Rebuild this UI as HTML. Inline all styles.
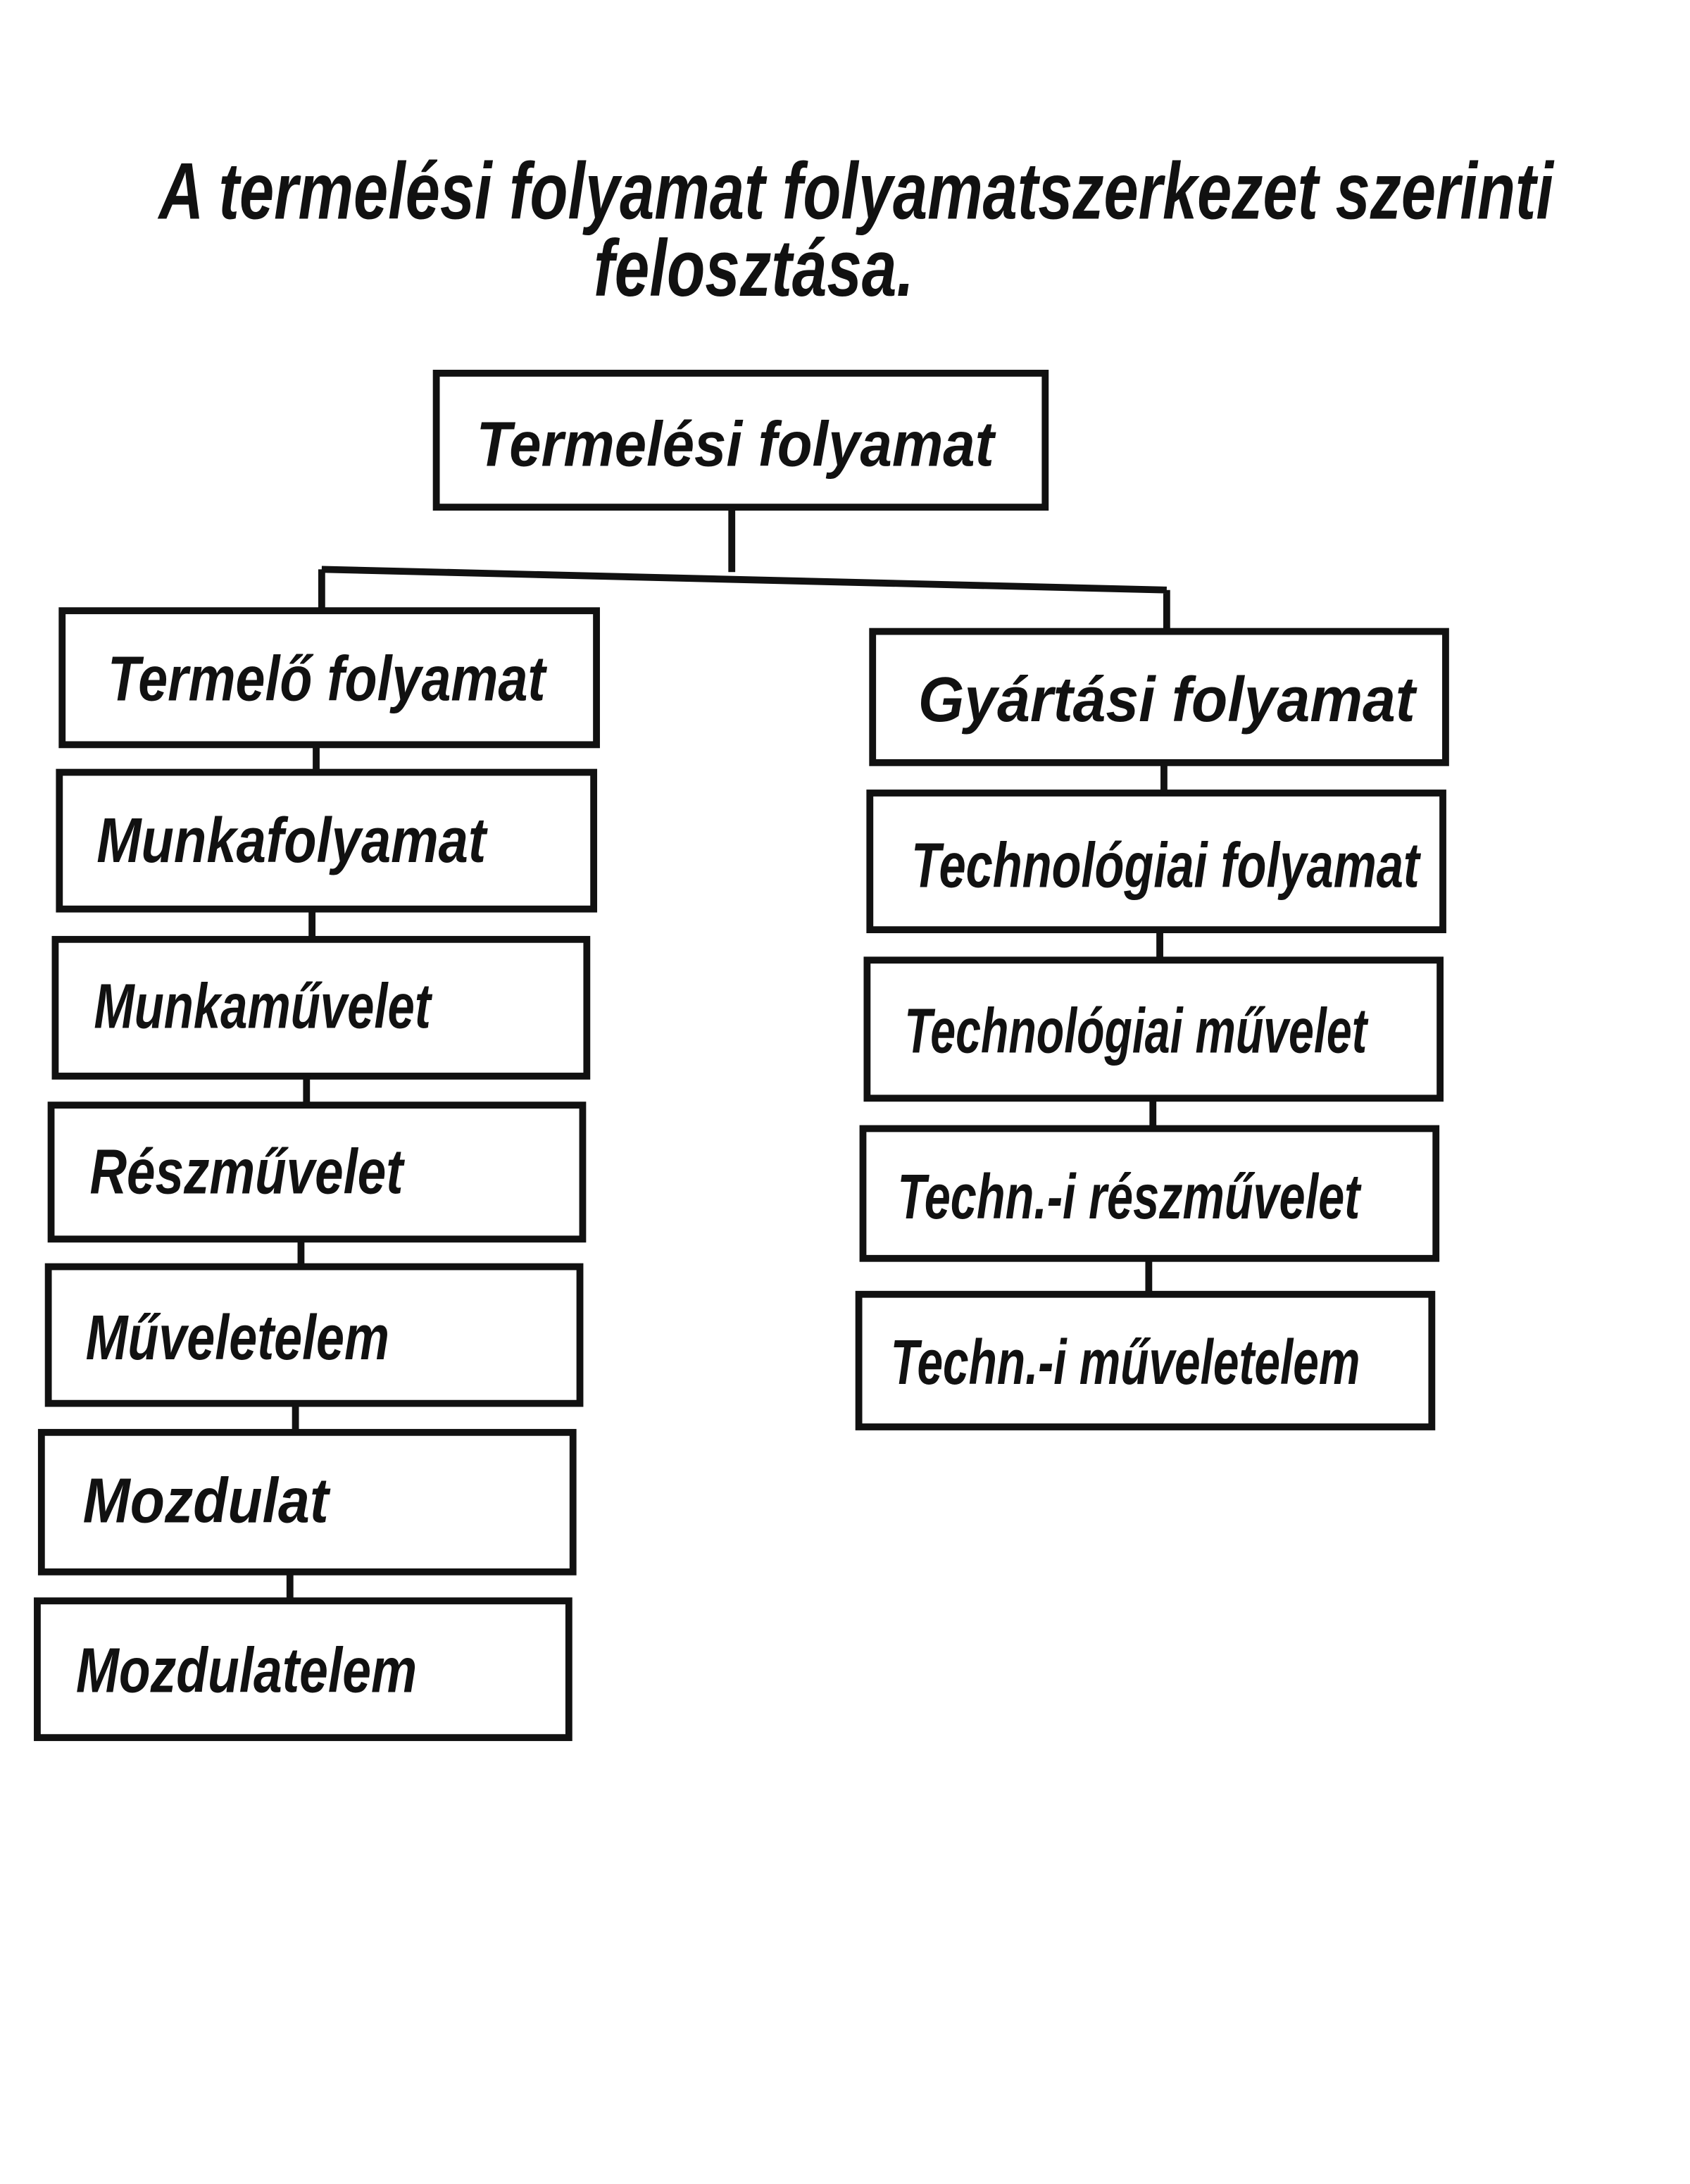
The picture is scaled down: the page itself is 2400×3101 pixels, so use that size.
<!DOCTYPE html>
<html><head><meta charset="utf-8">
<style>
html,body{margin:0;padding:0;background:#fff;}
svg{display:block;}
text{font-family:"Liberation Sans Narrow","Liberation Sans",sans-serif;font-weight:bold;font-style:italic;fill:#111;}
</style></head>
<body>
<svg width="2400" height="3101" viewBox="0 0 1224 1581" xmlns="http://www.w3.org/2000/svg">
<rect width="1224" height="1581" fill="#fff"/>
<g>
<text x="115" y="158" font-size="58" textLength="1010" lengthAdjust="spacingAndGlyphs" font-weight="normal">A termelési folyamat folyamatszerkezet szerinti</text>
<text x="430" y="214" font-size="58" textLength="232" lengthAdjust="spacingAndGlyphs" font-weight="normal">felosztása.</text>
</g>
<g fill="none" stroke="#111" stroke-width="5">
<rect x="316" y="270" width="441" height="97"/>
<path d="M530 367 V414 M233 412 L845 427 M233 412 V440 M845 427 V457"/>
<rect x="45" y="442" width="387" height="97"/>
<rect x="43" y="559" width="387" height="99"/>
<rect x="40" y="680" width="385" height="99"/>
<rect x="37" y="800" width="385" height="97"/>
<rect x="35" y="917" width="385" height="99"/>
<rect x="30" y="1037" width="385" height="101"/>
<rect x="27" y="1159" width="385" height="99"/>
<path d="M229 539 V559 M226 658 V680 M222 779 V800 M218 897 V917 M214 1016 V1037 M210 1138 V1159"/>
<rect x="632" y="457" width="415" height="95"/>
<rect x="630" y="574" width="415" height="99"/>
<rect x="628" y="695" width="415" height="100"/>
<rect x="625" y="817" width="415" height="94"/>
<rect x="622" y="937" width="415" height="96"/>
<path d="M843 552 V574 M840 673 V695 M835 795 V817 M832 911 V937"/>
</g>
<g font-size="46">
<text x="345" y="337" textLength="375" lengthAdjust="spacingAndGlyphs">Termelési folyamat</text>
<text x="78" y="507" textLength="317" lengthAdjust="spacingAndGlyphs">Termelő folyamat</text>
<text x="70" y="624" textLength="282" lengthAdjust="spacingAndGlyphs">Munkafolyamat</text>
<text x="68" y="744" textLength="244" lengthAdjust="spacingAndGlyphs">Munkaművelet</text>
<text x="65" y="864" textLength="227" lengthAdjust="spacingAndGlyphs">Részművelet</text>
<text x="62" y="984" textLength="220" lengthAdjust="spacingAndGlyphs">Műveletelem</text>
<text x="60" y="1102" textLength="178" lengthAdjust="spacingAndGlyphs">Mozdulat</text>
<text x="55" y="1225" textLength="247" lengthAdjust="spacingAndGlyphs">Mozdulatelem</text>
<text x="665" y="522" textLength="360" lengthAdjust="spacingAndGlyphs">Gyártási folyamat</text>
<text x="660" y="642" textLength="368" lengthAdjust="spacingAndGlyphs">Technológiai folyamat</text>
<text x="655" y="762" textLength="335" lengthAdjust="spacingAndGlyphs">Technológiai művelet</text>
<text x="650" y="882" textLength="335" lengthAdjust="spacingAndGlyphs">Techn.-i részművelet</text>
<text x="645" y="1002" textLength="340" lengthAdjust="spacingAndGlyphs">Techn.-i műveletelem</text>
</g>
</svg>
</body></html>
